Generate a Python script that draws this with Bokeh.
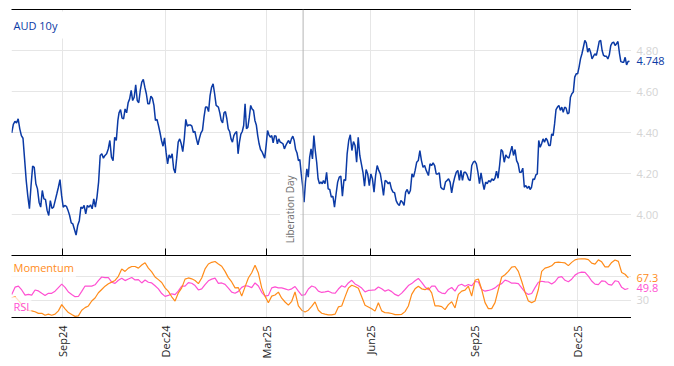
from datetime import datetime
import numpy as np
import pandas as pd
from bokeh.plotting import figure
from bokeh.layouts import column, row
from bokeh.core.properties import value
from bokeh.models import (Range1d, LinearAxis, FixedTicker, DatetimeTickFormatter,
                          Span, Label, CustomLabelingPolicy, ColumnDataSource)
from bokeh.embed import file_html
from bokeh.resources import INLINE

FONT = "Open Sans"
BLUE = "#0b3aa5"
ORANGE = "#ff8c1a"
PINK = "#ff50d2"
GRID = "#e6e6e6"
TICKGREY = "#d4d4d4"

# ---------------- data ----------------
month_ticks = ["2024-09-01", "2024-12-01", "2025-03-01", "2025-06-01", "2025-09-01", "2025-12-01"]
liberation_day = "2025-04-02"
view_start = datetime(2024, 7, 17, 19)
view_end = datetime(2026, 1, 17, 19)

# AUD 10y yield, read in six stretches: (first date, last date) and the values in between
aud_stretches = [("2024-07-18", "2024-10-20"), ("2024-10-21", "2025-01-15"),
                 ("2025-01-17", "2025-04-19"), ("2025-04-20", "2025-07-20"),
                 ("2025-07-22", "2025-10-19"), ("2025-10-20", "2026-01-16")]
aud_a = [4.398, 4.44, 4.454, 4.447, 4.467, 4.418, 4.385, 4.372, 4.27, 4.166,
         4.09, 4.028, 4.14, 4.236, 4.23, 4.15, 4.125, 4.06, 4.036, 4.117,
         4.076, 4.073, 4.02, 3.995, 4.068, 4.03, 4.036, 4.068, 4.10, 4.133,
         4.17, 4.093, 4.036, 4.044, 4.04, 4.02, 3.995, 3.959, 3.954, 3.927,
         3.90, 3.946, 3.97, 4.036, 4.03, 4.044, 4.003, 4.044, 4.036, 4.047,
         4.028, 4.076, 4.036, 4.085, 4.158, 4.288, 4.296, 4.275, 4.288, 4.296,
         4.32, 4.361, 4.28, 4.263, 4.377, 4.361, 4.459]
aud_b = [4.496, 4.512, 4.47, 4.467, 4.515, 4.496, 4.545, 4.564, 4.605, 4.556,
         4.572, 4.633, 4.556, 4.545, 4.605, 4.646, 4.659, 4.621, 4.589, 4.54,
         4.54, 4.577, 4.567, 4.532, 4.459, 4.464, 4.434, 4.40, 4.361, 4.333,
         4.374, 4.304, 4.247, 4.291, 4.275, 4.296, 4.223, 4.203, 4.275, 4.353,
         4.369, 4.345, 4.307, 4.369, 4.464, 4.431, 4.437, 4.437, 4.431, 4.40,
         4.405, 4.369, 4.34, 4.372, 4.398, 4.41, 4.475, 4.524, 4.524, 4.502,
         4.58, 4.621, 4.637, 4.589, 4.532]
aud_c = [4.524, 4.496, 4.459, 4.447, 4.496, 4.502, 4.467, 4.418, 4.405, 4.369,
         4.353, 4.385, 4.398, 4.405, 4.296, 4.353, 4.392, 4.405, 4.434, 4.54,
         4.418, 4.426, 4.475, 4.532, 4.515, 4.508, 4.459, 4.437, 4.385, 4.345,
         4.317, 4.307, 4.291, 4.275, 4.337, 4.41, 4.389, 4.377, 4.385, 4.35,
         4.385, 4.382, 4.345, 4.369, 4.353, 4.35, 4.345, 4.32, 4.337, 4.35,
         4.361, 4.345, 4.369, 4.382, 4.361, 4.317, 4.30, 4.263, 4.268, 4.198,
         4.141, 4.06, 4.158, 4.223, 4.182, 4.28, 4.32, 4.271, 4.385, 4.312,
         4.255, 4.174, 4.15, 4.158, 4.15]
aud_d = [4.166, 4.15, 4.206, 4.125, 4.122, 4.085, 4.089, 4.036, 4.10, 4.158,
         4.182, 4.187, 4.089, 4.17, 4.166, 4.296, 4.361, 4.389, 4.312, 4.356,
         4.337, 4.255, 4.377, 4.288, 4.247, 4.206, 4.138, 4.219, 4.198, 4.141,
         4.198, 4.174, 4.109, 4.19, 4.239, 4.215, 4.198, 4.15, 4.093, 4.166,
         4.161, 4.15, 4.158, 4.125, 4.109, 4.106, 4.068, 4.052, 4.044, 4.068,
         4.06, 4.044, 4.109, 4.122, 4.10, 4.117, 4.198, 4.182, 4.215, 4.255,
         4.263, 4.312, 4.263, 4.23, 4.239, 4.215]
aud_e = [4.19, 4.247, 4.239, 4.252, 4.239, 4.198, 4.198, 4.203, 4.133, 4.125,
         4.122, 4.158, 4.166, 4.174, 4.158, 4.106, 4.15, 4.182, 4.206, 4.215,
         4.166, 4.215, 4.166, 4.206, 4.206, 4.193, 4.17, 4.166, 4.239, 4.255,
         4.26, 4.247, 4.206, 4.15, 4.203, 4.158, 4.122, 4.158, 4.15, 4.166,
         4.158, 4.174, 4.166, 4.177, 4.211, 4.177, 4.239, 4.317, 4.307, 4.255,
         4.291, 4.28, 4.275, 4.304, 4.333, 4.288, 4.317, 4.263, 4.247, 4.206,
         4.206, 4.226, 4.133, 4.141, 4.128, 4.138]
aud_f = [4.122, 4.133, 4.174, 4.17, 4.193, 4.198, 4.361, 4.328, 4.345, 4.369,
         4.353, 4.372, 4.361, 4.337, 4.337, 4.393, 4.385, 4.442, 4.512, 4.524,
         4.532, 4.508, 4.524, 4.499, 4.524, 4.519, 4.491, 4.496, 4.572, 4.589,
         4.597, 4.67, 4.686, 4.686, 4.719, 4.759, 4.784, 4.816, 4.849, 4.837,
         4.792, 4.811, 4.792, 4.759, 4.772, 4.784, 4.776, 4.808, 4.844, 4.849,
         4.80, 4.776, 4.772, 4.772, 4.759, 4.779, 4.824, 4.837, 4.841, 4.824,
         4.833, 4.844, 4.789, 4.746, 4.743, 4.743, 4.767, 4.73, 4.746, 4.748]
aud_parts = [aud_a, aud_b, aud_c, aud_d, aud_e, aud_f]

# Oscillators, evenly spaced from osc_start to osc_end
osc_start, osc_end = "2024-07-18", "2026-01-15"
momentum = [34.4, 36.0, 30.0, 23.4, 15.7, 13.3, 12.5, 11.1, 8.4, 8.6,
            5.3, 7.0, 5.3, 7.0, 12.5, 22.9, 15.9, 9.7, 6.4, 3.4,
            4.2, 13.6, 17.9, 20.7, 28.9, 34.0, 42.6, 48.1, 53.6, 57.7,
            60.4, 63.1, 70.0, 82.1, 78.2, 83.7, 86.4, 86.4, 83.7, 88.8,
            92.7, 83.7, 77.5, 68.9, 64.5, 59.8, 50.8, 45.0, 36.0, 28.9,
            42.6, 50.8, 65.3, 67.3, 65.9, 63.1, 57.9, 67.3, 82.3, 90.5,
            93.3, 94.7, 90.7, 86.8, 78.2, 67.9, 60.7, 50.8, 51.2, 37.1,
            52.5, 67.3, 75.9, 88.4, 75.5, 50.8, 37.1, 26.2, 37.1, 39.0,
            43.7, 33.6, 27.3, 22.0, 28.5, 44.0, 20.7, 13.7, 10.8, 13.6,
            19.9, 27.5, 13.6, 8.6,
            7.0, 5.9, 5.9, 7.0, 19.1, 20.7, 35.8, 50.3, 55.2, 53.1,
            50.3, 36.0, 21.8, 19.1, 16.0, 12.1, 26.2, 12.5, 9.4, 9.2,
            8.1, 6.3, 6.2, 6.8, 11.3, 20.7, 39.9, 49.2, 53.6, 49.2,
            47.8, 50.8, 42.6, 20.7, 20.7, 19.6, 14.6, 22.9, 27.8, 17.4,
            39.9, 45.3, 47.0, 53.6, 37.1, 63.4, 65.6, 48.1, 26.2, 16.3,
            16.3, 26.2, 48.1, 68.9, 72.7, 78.2, 85.3, 86.4, 78.2, 61.8,
            43.7, 28.9, 26.2, 28.9, 48.1, 78.2, 83.7, 85.3, 87.5, 93.0,
            93.5, 93.0, 92.3, 87.8, 93.2, 97.4, 98.8, 99.0, 99.0, 97.9,
            91.9, 90.3, 97.4, 94.1, 85.7, 85.7, 93.2, 97.1, 94.8, 76.3,
            73.5, 67.3]
rsi = [39.9, 52.0, 53.6, 47.3, 38.7, 39.9, 38.7, 47.3, 45.7, 41.8,
       38.2, 41.8, 41.8, 45.3, 51.2, 57.1, 51.7, 43.9, 39.9, 36.1,
       36.4, 45.0, 53.9, 53.6, 53.8, 55.9, 62.9, 68.9, 67.8, 67.8,
       60.2, 58.3, 63.4, 66.8, 62.9, 65.6, 68.0, 64.0, 64.5, 59.0,
       63.8, 60.1, 59.0, 54.3, 49.2, 41.3, 36.6, 38.2, 40.9, 39.5,
       45.7, 53.6, 53.6, 59.4, 58.5, 54.7, 47.3, 49.2, 56.3, 62.6,
       65.3, 66.9, 58.3, 59.0, 56.7, 50.4, 43.7, 41.8, 45.0, 51.6,
       54.3, 53.6, 51.2, 59.0, 53.9, 43.4, 37.1, 38.2, 50.8, 52.5,
       50.8, 50.8, 49.2, 47.3, 49.2, 53.1, 45.3, 38.2, 39.5, 48.9,
       53.9, 51.9, 45.3, 43.2,
       44.2, 45.3, 42.6, 41.8, 48.9, 54.3, 51.9, 59.0, 63.4, 57.4,
       54.3, 50.4, 44.2, 46.5, 47.0, 47.6, 52.3, 49.2, 45.3, 47.6,
       44.6, 39.9, 37.5, 42.1, 48.1, 54.7, 57.9, 62.6, 66.5, 60.1,
       52.3, 47.6, 53.6, 53.6, 45.3, 42.1, 41.3, 48.1, 51.4, 45.3,
       54.8, 56.8, 53.6, 56.3, 54.3, 61.4, 60.6, 48.1, 45.3, 46.5,
       48.1, 50.8, 55.5, 57.9, 63.7, 61.8, 58.6, 58.7, 57.9, 50.8,
       43.7, 39.9, 41.5, 51.2, 60.2, 61.8, 60.7, 60.6, 57.1, 61.0,
       68.4, 69.5, 63.4, 61.1, 65.3, 72.0, 75.5, 77.1, 76.6, 70.2,
       62.2, 57.1, 56.3, 62.3, 61.8, 56.7, 55.5, 62.6, 61.4, 51.7,
       48.1, 49.8]

aud_ticks = [4.0, 4.2, 4.4, 4.6, 4.8]
osc_grid = [30, 70]
osc_labels = [30]

# ---------------- build ----------------
def ms(s):
    return pd.Timestamp(s).value / 1e6

tick_ms = [ms(d) for d in month_ticks]
aud_dates = np.concatenate([pd.date_range(s, e, periods=len(v)).values
                            for (s, e), v in zip(aud_stretches, aud_parts)])
aud = np.concatenate([np.array(v) for v in aud_parts])
osc_dates = pd.date_range(osc_start, osc_end, periods=len(momentum))

x_range = Range1d(view_start, view_end)
x_start_ms = pd.Timestamp(view_start).value / 1e6

FRAME_W = 620
SIDE_W = 36
TOP_H, LOW_H = 246, 61
TOP_PAD, MID_PAD, BOTTOM_PAD = 9, 1, 44


def style_common(p):
    p.outline_line_color = None
    p.background_fill_color = "white"
    p.border_fill_color = "white"


def bare_axis(ax):
    ax.major_tick_in = 0
    ax.major_tick_out = 0
    ax.minor_tick_in = 0
    ax.minor_tick_out = 0


def side_panel(y_range, frame_h, top, bottom, texts, ys, colors):
    s = figure(x_range=Range1d(0, 1), y_range=y_range, frame_width=SIDE_W, frame_height=frame_h,
               min_border_left=0, min_border_right=0, min_border_top=top, min_border_bottom=bottom,
               x_axis_location=None, y_axis_location=None,
               output_backend="svg", toolbar_location=None)
    style_common(s)
    s.grid.visible = False
    src = ColumnDataSource(dict(x=[0] * len(texts), y=ys, t=texts, c=colors))
    s.text(x="x", y="y", text="t", text_color="c", source=src, x_offset=5,
           text_align="left", text_baseline="middle",
           text_font=value(FONT), text_font_size=value("11px"))
    return s


# ---- top panel ----
aud_yr = Range1d(3.80, 5.00)
p1 = figure(x_range=x_range, y_range=aud_yr, x_axis_type="datetime",
            y_axis_location=None, frame_width=FRAME_W, frame_height=TOP_H,
            min_border_left=11, min_border_right=0, min_border_top=TOP_PAD,
            min_border_bottom=MID_PAD, output_backend="svg", toolbar_location=None)
style_common(p1)
xa = p1.xaxis[0]
bare_axis(xa)
xa.ticker = FixedTicker(ticks=tick_ms)
xa.major_tick_in = 7
xa.major_label_text_font_size = "0px"
xa.major_label_standoff = 0
xa.major_label_policy = CustomLabelingPolicy(code="return new indices.constructor(indices.size)")
xa.axis_line_color = "black"
xa.major_tick_line_color = "black"

top_axis = LinearAxis(ticker=FixedTicker(ticks=[]), major_label_text_font_size="0px",
                      major_label_standoff=0, axis_line_color="black")
bare_axis(top_axis)
p1.add_layout(top_axis, "above")

p1.xgrid.grid_line_color = GRID
p1.ygrid.grid_line_color = GRID
p1.ygrid.ticker = FixedTicker(ticks=aud_ticks)

p1.add_layout(Span(location=ms(liberation_day), dimension="height",
                   line_color="#b4b4b4", line_width=1))
p1.line(aud_dates, aud, line_color=BLUE, line_width=1.5)

p1.add_layout(Label(x=ms(liberation_day), y=3.845, text="Liberation Day", angle=np.pi / 2,
                    x_offset=-13, text_align="left", text_baseline="middle",
                    text_font=FONT, text_font_size="10px", text_color="#6e6e6e",
                    background_fill_color="white", padding=3))
p1.add_layout(Label(x=x_start_ms, y=4.924, x_offset=-4, text="AUD 10y", text_font=FONT,
                    text_font_size="11px", text_color=BLUE, text_baseline="middle",
                    background_fill_color="white", padding=6))

p1s = side_panel(aud_yr, TOP_H, TOP_PAD, MID_PAD,
                 [f"{t:.2f}" for t in aud_ticks] + [f"{aud[-1]:.3f}"],
                 aud_ticks + [float(aud[-1])],
                 [TICKGREY] * len(aud_ticks) + [BLUE])

# ---- lower panel ----
osc_yr = Range1d(1.5, 103)
p2 = figure(x_range=x_range, y_range=osc_yr, x_axis_type="datetime",
            y_axis_location=None, frame_width=FRAME_W, frame_height=LOW_H,
            min_border_left=11, min_border_right=0, min_border_top=0,
            min_border_bottom=BOTTOM_PAD, output_backend="svg", toolbar_location=None)
style_common(p2)
xb = p2.xaxis[0]
bare_axis(xb)
xb.ticker = FixedTicker(ticks=tick_ms)
xb.formatter = DatetimeTickFormatter(milliseconds="%b%y", seconds="%b%y", minsec="%b%y",
                                     minutes="%b%y", hourmin="%b%y", hours="%b%y",
                                     days="%b%y", months="%b%y", years="%b%y")
xb.major_label_orientation = np.pi / 2
xb.major_label_standoff = 8
xb.major_label_text_font = FONT
xb.major_label_text_font_size = "11px"
xb.major_label_text_color = "#222222"
xb.axis_line_color = "black"

p2.xgrid.grid_line_color = GRID
p2.ygrid.grid_line_color = GRID
p2.ygrid.ticker = FixedTicker(ticks=osc_grid)

p2.add_layout(Span(location=ms(liberation_day), dimension="height",
                   line_color="#b4b4b4", line_width=1))
p2.line(osc_dates, rsi, line_color=PINK, line_width=1.2)
p2.line(osc_dates, momentum, line_color=ORANGE, line_width=1.2)

p2.add_layout(Label(x=x_start_ms, y=84, x_offset=0, text="Momentum", text_font=FONT,
                    text_font_size="11px", text_color=ORANGE, text_baseline="middle",
                    background_fill_color="white", background_fill_alpha=0.75, padding=2))
p2.add_layout(Label(x=x_start_ms, y=20, x_offset=0, text="RSI", text_font=FONT,
                    text_font_size="11px", text_color=PINK, text_baseline="middle",
                    background_fill_color="white", background_fill_alpha=0.75, padding=2))

p2s = side_panel(osc_yr, LOW_H, 0, BOTTOM_PAD,
                 [str(t) for t in osc_labels] + [f"{momentum[-1]:.1f}", f"{rsi[-1]:.1f}"],
                 osc_labels + [momentum[-1], rsi[-1]],
                 [TICKGREY] * len(osc_labels) + [ORANGE, PINK])

layout = column(row(p1, p1s), row(p2, p2s))
open("out.html", "w").write(file_html(layout, INLINE))
